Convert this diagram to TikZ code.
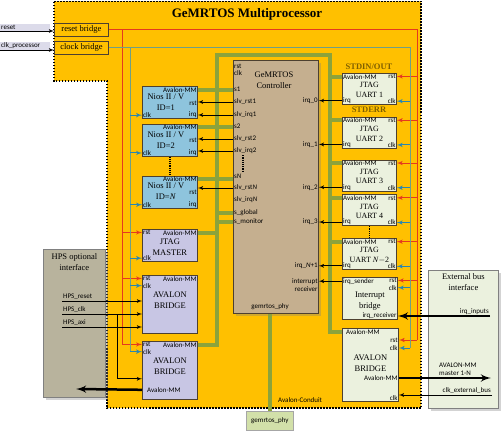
\documentclass[tikz,border=0pt]{standalone}
\usepackage{fontspec}
\setmainfont{Liberation Serif}
\newfontfamily\portfont{Carlito}
\usetikzlibrary{arrows, positioning, shadows}

\definecolor{orng}{HTML}{FFC000}
\definecolor{rstred}{HTML}{E5391F}
\definecolor{clkline}{HTML}{6F9F86}
\definecolor{clkteal}{HTML}{2A86B0}
\definecolor{busgreen}{HTML}{8CA33B}
\definecolor{niosblue}{HTML}{8EC4DD}
\definecolor{jtaglav}{HTML}{C8C6E4}
\definecolor{ctrltan}{HTML}{C5AF8F}
\definecolor{uartgreen}{HTML}{EBF1DE}
\definecolor{hpsgrey}{HTML}{B8B39D}
\definecolor{phygreen}{HTML}{D2E0A9}
\definecolor{boxline}{HTML}{4D4030}
\definecolor{stdgold}{HTML}{7F5F00}
\definecolor{inlab}{HTML}{DCDBEA}

\begin{document}
\begin{tikzpicture}[x=1pt, y=-1pt, >=latex',
    box/.style={draw=boxline, line width=0.8pt, inner sep=0pt, anchor=north west},
    nios/.style={box, fill=niosblue, minimum width=55pt, minimum height=32pt},
    uart/.style={box, fill=uartgreen, minimum width=54pt, minimum height=31pt},
    port/.style={font=\portfont\fontsize{7}{8}\selectfont, inner sep=1pt},
    boxname/.style={font=\fontsize{8.5}{11}\selectfont, align=center, inner sep=0pt},
    uartname/.style={boxname, font=\upshape\fontsize{8}{9.5}\selectfont},
    stdlabel/.style={font=\bfseries\fontsize{8.5}{9}\selectfont, text=stdgold, inner sep=0pt},
    bus/.style={busgreen, line width=4pt},
    rstw/.style={rstred, line width=1pt},
    clkw/.style={clkline, line width=1pt},
    rarr/.style={rstred, line width=1pt, ->},
    carr/.style={clkteal, line width=1pt, ->},
    sig/.style={black, line width=0.8pt, ->},
    fat/.style={black, line width=2.5pt, ->},
    dots/.style={line width=1.2pt, densely dotted}]
    \useasboundingbox (0,0) rectangle (502,430);

    % multiprocessor area
    \draw[fill=orng, line width=1.5pt, dash pattern=on 1.5pt off 1.5pt]
        (54,1.5) -- (421,1.5) -- (421,408) -- (107,408) -- (107,81) -- (54,81) -- cycle;
    \node[font=\bfseries\fontsize{13}{13}\selectfont] (title) at (247,14) {GeMRTOS Multiprocessor};

    % inputs and bridges
    \node[port, fill=inlab, anchor=south west, text width=48pt] (resetin) at (0,31) {reset};
    \node[port, fill=inlab, anchor=south west, text width=48pt] (clkin) at (0,50) {clk\_processor};
    \node[box, fill=orng, minimum width=54pt, minimum height=13pt, font=\fontsize{8.5}{9}\selectfont] (rstbr) at (54,23) {reset bridge};
    \node[box, fill=orng, minimum width=54pt, minimum height=13pt, font=\fontsize{8.5}{9}\selectfont] (clkbr) at (54,41) {clock bridge};

    % processors
    \node[nios] (nios1) at (142,86) {};
    \node[nios, below=5pt of nios1] (nios2) {};
    \node[nios, below=19pt of nios2] (niosN) {};
    \node[port, anchor=north east] (nios1-av) at (nios1.north east) {Avalon-MM};
    \node[boxname] (nios1-nm) at ([xshift=-4pt, yshift=-16pt]nios1.north) {Nios II / V\\ID=1};
    \node[port, anchor=east] (nios1-rst) at ([yshift=-17pt]nios1.north east) {rst};
    \node[port, anchor=south west] (nios1-clk) at (nios1.south west) {clk};
    \node[port, anchor=south east] (nios1-irq) at (nios1.south east) {irq};
    \node[port, anchor=north east] (nios2-av) at (nios2.north east) {Avalon-MM};
    \node[boxname] (nios2-nm) at ([xshift=-4pt, yshift=-16pt]nios2.north) {Nios II / V\\ID=2};
    \node[port, anchor=east] (nios2-rst) at ([yshift=-17pt]nios2.north east) {rst};
    \node[port, anchor=south west] (nios2-clk) at (nios2.south west) {clk};
    \node[port, anchor=south east] (nios2-irq) at (nios2.south east) {irq};
    \node[port, anchor=north east] (niosN-av) at (niosN.north east) {Avalon-MM};
    \node[boxname] (niosN-nm) at ([xshift=-4pt, yshift=-16pt]niosN.north) {Nios II / V\\ID=\textit{N}};
    \node[port, anchor=east] (niosN-rst) at ([yshift=-17pt]niosN.north east) {rst};
    \node[port, anchor=south west] (niosN-clk) at (niosN.south west) {clk};
    \node[port, anchor=south east] (niosN-irq) at (niosN.south east) {irq};

    % jtag master and hps bridges
    \node[box, fill=jtaglav, minimum width=55pt, minimum height=32pt] (jm) at (142,229) {};
    \node[port, anchor=north west] (jm-rst) at (jm.north west) {rst};
    \node[port, anchor=north east] (jm-av) at (jm.north east) {Avalon-MM};
    \node[boxname] (jm-nm) at ([yshift=-2pt]jm.center) {JTAG\\MASTER};
    \node[port, anchor=south west] (jm-clk) at (jm.south west) {clk};

    \node[box, fill=jtaglav, minimum width=55pt, minimum height=58pt] (ab1) at (142,275) {};
    \node[port, anchor=north west] (ab1-rst) at (ab1.north west) {rst};
    \node[port, anchor=north west] (ab1-clk) at ([yshift=-7pt]ab1.north west) {clk};
    \node[port, anchor=north east] (ab1-av) at (ab1.north east) {Avalon-MM};
    \node[boxname] (ab1-nm) at ([yshift=-25pt]ab1.north) {AVALON\\BRIDGE};

    \node[box, fill=jtaglav, minimum width=55pt, minimum height=58pt] (ab2) at (142,341) {};
    \node[port, anchor=north west] (ab2-rst) at (ab2.north west) {rst};
    \node[port, anchor=north west] (ab2-clk) at ([yshift=-7pt]ab2.north west) {clk};
    \node[port, anchor=north east] (ab2-av) at (ab2.north east) {Avalon-MM};
    \node[boxname] (ab2-nm) at ([yshift=-25pt]ab2.north) {AVALON\\BRIDGE};
    \node[port, anchor=west] (ab2-out) at ([xshift=4pt, yshift=10pt]ab2.south west) {Avalon-MM};

    \node[box, fill=hpsgrey, draw=gray, minimum width=62pt, minimum height=148pt, drop shadow={opacity=0.35}] (hps) at (43,249) {};
    \node[boxname, anchor=north] (hps-nm) at ([yshift=-4pt]hps.north) {HPS optional\\interface};
    \node[port, anchor=south west] (hps-rst) at (62,301) {HPS\_reset};
    \node[port, anchor=south west] (hps-clk) at (62,314) {HPS\_clk};
    \node[port, anchor=south west] (hps-axi) at (62,327) {HPS\_axi};
    \coordinate (hclk) at (117,314);
    \coordinate (hpsout) at (76,389);

    % controller
    \node[box, fill=ctrltan, minimum width=85pt, minimum height=253pt, drop shadow={opacity=0.35}] (ctrl) at (233,60) {};
    \node[boxname] (c-nm) at (274,80) {GeMRTOS\\Controller};
    \node[port, anchor=west] (c-rst) at (233,66) {rst};
    \node[port, anchor=west] (c-clk) at (233,73) {clk};
    \node[port, anchor=west] (c-s1) at (233,89) {s1};
    \node[port, anchor=west] (c-rst1) at (233,102) {slv\_rst1};
    \node[port, anchor=west] (c-irq1) at (233,115) {slv\_irq1};
    \node[port, anchor=west] (c-s2) at (233,126) {s2};
    \node[port, anchor=west] (c-rst2) at (233,139) {slv\_rst2};
    \node[port, anchor=west] (c-irq2) at (233,151) {slv\_irq2};
    \node[port, anchor=west] (c-sN) at (233,176) {s\textit{N}};
    \node[port, anchor=west] (c-rstN) at (233,188) {slv\_rst\textit{N}};
    \node[port, anchor=west] (c-irqN) at (233,200) {slv\_irq\textit{N}};
    \node[port, anchor=west] (c-glob) at (233,213) {s\_global};
    \node[port, anchor=west] (c-mon) at (233,222) {s\_monitor};
    \node[port] (c-phy) at (270,307) {gemrtos\_phy};

    % jtag uarts
    \node[uart] (u1) at (342,73) {};
    \node[uart, below=12pt of u1] (u2) {};
    \node[uart, below=11pt of u2] (u3) {};
    \node[uart, below=3pt of u3] (u4) {};
    \node[uart, below=12pt of u4] (uN) {};
    \node[stdlabel] (stdout) at (369,67) {STDIN/OUT};
    \node[stdlabel] (stderr) at (369,110) {STDERR};
    \node[port, anchor=north west] (u1-av) at (u1.north west) {Avalon-MM};
    \node[port, anchor=north east] (u1-rst) at (u1.north east) {rst};
    \node[uartname] (u1-nm) at ([yshift=-1pt]u1.center) {JTAG\\UART 1};
    \node[port, anchor=south west] (u1-irq) at (u1.south west) {irq};
    \node[port, anchor=south east] (u1-clk) at (u1.south east) {clk};
    \node[port, anchor=north west] (u2-av) at (u2.north west) {Avalon-MM};
    \node[port, anchor=north east] (u2-rst) at (u2.north east) {rst};
    \node[uartname] (u2-nm) at ([yshift=-1pt]u2.center) {JTAG\\UART 2};
    \node[port, anchor=south west] (u2-irq) at (u2.south west) {irq};
    \node[port, anchor=south east] (u2-clk) at (u2.south east) {clk};
    \node[port, anchor=north west] (u3-av) at (u3.north west) {Avalon-MM};
    \node[port, anchor=north east] (u3-rst) at (u3.north east) {rst};
    \node[uartname] (u3-nm) at ([yshift=-1pt]u3.center) {JTAG\\UART 3};
    \node[port, anchor=south west] (u3-irq) at (u3.south west) {irq};
    \node[port, anchor=south east] (u3-clk) at (u3.south east) {clk};
    \node[port, anchor=north west] (u4-av) at (u4.north west) {Avalon-MM};
    \node[port, anchor=north east] (u4-rst) at (u4.north east) {rst};
    \node[uartname] (u4-nm) at ([yshift=-1pt]u4.center) {JTAG\\UART 4};
    \node[port, anchor=south west] (u4-irq) at (u4.south west) {irq};
    \node[port, anchor=south east] (u4-clk) at (u4.south east) {clk};
    \node[port, anchor=north west] (uN-av) at (uN.north west) {Avalon-MM};
    \node[port, anchor=north east] (uN-rst) at (uN.north east) {rst};
    \node[uartname] (uN-nm) at ([yshift=-1pt]uN.center) {JTAG\\UART \textit{N}$-$2};
    \node[port, anchor=south west] (uN-irq) at (uN.south west) {irq};
    \node[port, anchor=south east] (uN-clk) at (uN.south east) {clk};

    % controller irq inputs
    \node[port, anchor=east] (c-q0) at (ctrl.east |- u1-irq) {irq\_0};
    \node[port, anchor=east] (c-q1) at (ctrl.east |- u2-irq) {irq\_1};
    \node[port, anchor=east] (c-q2) at (ctrl.east |- u3-irq) {irq\_2};
    \node[port, anchor=east] (c-q3) at (ctrl.east |- u4-irq) {irq\_3};
    \node[port, anchor=east] (c-qN) at (ctrl.east |- uN-irq) {irq\_\textit{N}+1};

    % interrupt bridge and external avalon bridge
    \node[box, fill=uartgreen, minimum width=55pt, minimum height=42pt] (ib) at (342,277) {};
    \node[port, anchor=north west] (ib-snd) at (ib.north west) {irq\_sender};
    \node[port, anchor=north east] (ib-rst) at (ib.north east) {rst};
    \node[port, anchor=north east] (ib-clk) at ([yshift=-7pt]ib.north east) {clk};
    \node[boxname] (ib-nm) at ([yshift=-3pt]ib.center) {Interrupt\\bridge};
    \node[port, anchor=south east] (ib-rcv) at (ib.south east) {irq\_receiver};
    \node[port, anchor=north east, align=right] (c-irec) at (ctrl.east |- ib.north) {interrupt\\receiver};

    \node[box, fill=uartgreen, minimum width=56pt, minimum height=73pt] (abx) at (342,328) {};
    \node[port, anchor=north west] (abx-av) at ([xshift=3pt]abx.north west) {Avalon-MM};
    \node[port, anchor=east] (abx-rst) at ([yshift=-12pt]abx.north east) {rst};
    \node[port, anchor=east] (abx-clk) at ([yshift=-20pt]abx.north east) {clk};
    \node[boxname] (abx-nm) at ([yshift=-35pt]abx.north) {AVALON\\BRIDGE};
    \node[port, anchor=east] (abx-out) at ([yshift=-50pt]abx.north east) {Avalon-MM};
    \node[port, anchor=south east] (abx-clk2) at (abx.south east) {clk};

    \node[box, fill=uartgreen, draw=gray, minimum width=70pt, minimum height=138pt, drop shadow={opacity=0.35}] (ext) at (428,270) {};
    \node[boxname, anchor=north] (ext-nm) at ([yshift=-3pt]ext.north) {External bus\\interface};
    \node[port, anchor=south east] (ext-irq) at (490,316) {irq\_inputs};
    \node[port, anchor=south west, align=left] (ext-av) at (438,377) {AVALON-MM\\master 1-N};
    \node[port, anchor=south east] (ext-clk) at (492,395) {clk\_external\_bus};
    \coordinate (extout) at (491,0);

    \node[box, fill=phygreen, draw=gray!70, minimum width=47pt, minimum height=19pt, font=\portfont\fontsize{7}{8}\selectfont] (phy) at (246,411) {gemrtos\_phy};
    \node[port, anchor=west] (cond) at (277,400) {Avalon-Conduit};

    % avalon-mm bus
    \coordinate (busL) at (217,55);
    \coordinate (busR) at (330,55);
    \draw[bus] (ab2.east |- ab2-av) -| (busL) -- (busR) |- (abx.west |- abx-av);
    \draw[bus] (nios1.east |- nios1-av) -- (ctrl.west |- nios1-av);
    \draw[bus] (nios2.east |- nios2-av) -- (ctrl.west |- nios2-av);
    \draw[bus] (niosN.east |- niosN-av) -- (ctrl.west |- niosN-av);
    \draw[bus] (busL |- c-glob) -- (ctrl.west |- c-glob);
    \draw[bus] (busL |- c-mon) -- (ctrl.west |- c-mon);
    \draw[bus] (jm.east |- jm-av) -- (busL |- jm-av);
    \draw[bus] (busR |- u1-av) -- (u1.west |- u1-av);
    \draw[bus] (busR |- u2-av) -- (u2.west |- u2-av);
    \draw[bus] (busR |- u3-av) -- (u3.west |- u3-av);
    \draw[bus] (busR |- u4-av) -- (u4.west |- u4-av);
    \draw[bus] (busR |- uN-av) -- (uN.west |- uN-av);
    \draw[bus] (phy.north |- ctrl.south) -- (phy.north);

    % reset network
    \coordinate (rstL) at (122,0);
    \coordinate (rstR) at (417,0);
    \draw[sig] (resetin.south west) -- (rstbr.west |- resetin.south west);
    \draw[rstw] (rstbr.east) -- (rstR |- rstbr.east) -- (rstR |- abx-rst);
    \draw[rstw] (rstL |- rstbr.east) -- (rstL |- ab2-rst);
    \draw[rarr] (rstL |- jm-rst) -- (jm.west |- jm-rst);
    \draw[rarr] (rstL |- ab1-rst) -- (ab1.west |- ab1-rst);
    \draw[rarr] (rstL |- ab2-rst) -- (ab2.west |- ab2-rst);
    \draw[rarr] (rstR |- u1-rst) -- (u1.east |- u1-rst);
    \draw[rarr] (rstR |- u2-rst) -- (u2.east |- u2-rst);
    \draw[rarr] (rstR |- u3-rst) -- (u3.east |- u3-rst);
    \draw[rarr] (rstR |- u4-rst) -- (u4.east |- u4-rst);
    \draw[rarr] (rstR |- uN-rst) -- (uN.east |- uN-rst);
    \draw[rarr] (rstR |- ib-rst) -- (ib.east |- ib-rst);
    \draw[rarr] (rstR |- abx-rst) -- (abx.east |- abx-rst);

    % clock network
    \coordinate (clkL) at (130,0);
    \coordinate (clkR) at (410,0);
    \draw[sig] (clkin.south west) -- (clkbr.west |- clkin.south west);
    \draw[clkw] (clkbr.east) -- (clkR |- clkbr.east) -- (clkR |- abx-clk);
    \draw[clkw] (clkL |- clkbr.east) -- (clkL |- ab2-clk);
    \draw[carr] (clkL |- nios1-clk) -- (nios1.west |- nios1-clk);
    \draw[carr] (clkL |- nios2-clk) -- (nios2.west |- nios2-clk);
    \draw[carr] (clkL |- niosN-clk) -- (niosN.west |- niosN-clk);
    \draw[carr] (clkL |- jm-clk) -- (jm.west |- jm-clk);
    \draw[carr] (clkL |- ab1-clk) -- (ab1.west |- ab1-clk);
    \draw[carr] (clkL |- ab2-clk) -- (ab2.west |- ab2-clk);
    \draw[carr] (clkR |- u1-clk) -- (u1.east |- u1-clk);
    \draw[carr] (clkR |- u2-clk) -- (u2.east |- u2-clk);
    \draw[carr] (clkR |- u3-clk) -- (u3.east |- u3-clk);
    \draw[carr] (clkR |- u4-clk) -- (u4.east |- u4-clk);
    \draw[carr] (clkR |- uN-clk) -- (uN.east |- uN-clk);
    \draw[carr] (clkR |- ib-clk) -- (ib.east |- ib-clk);
    \draw[carr] (clkR |- abx-clk) -- (abx.east |- abx-clk);

    % slave resets and interrupts
    \draw[sig] (ctrl.west |- c-rst1) -- (nios1.east |- c-rst1);
    \draw[sig] (ctrl.west |- c-irq1) -- (nios1.east |- c-irq1);
    \draw[sig] (ctrl.west |- c-rst2) -- (nios2.east |- c-rst2);
    \draw[sig] (ctrl.west |- c-irq2) -- (nios2.east |- c-irq2);
    \draw[sig] (ctrl.west |- c-rstN) -- (niosN.east |- c-rstN);
    \draw[sig] (u1.west |- u1-irq) -- (c-q0.east);
    \draw[sig] (u2.west |- u2-irq) -- (c-q1.east);
    \draw[sig] (u3.west |- u3-irq) -- (c-q2.east);
    \draw[sig] (u4.west |- u4-irq) -- (c-q3.east);
    \draw[sig] (uN.west |- uN-irq) -- (c-qN.east);
    \draw[sig] (ib.west |- ib-snd) -- (ctrl.east |- ib-snd);

    % repeated units
    \draw[dots] (nios2.south) -- (niosN.north);
    \draw[dots] (u4.south) -- (uN.north);
    \draw[dots] ([xshift=10pt]c-irq2.south west) -- ([xshift=10pt]c-sN.north west);

    % hps side
    \draw[sig] (hps-rst.south west) -- (ab1.west |- hps-rst.south west);
    \draw[sig] (hps-clk.south west) -- (ab1.west |- hps-clk.south west);
    \draw[sig] (hps-axi.south west) -- (ab1.west |- hps-axi.south west);
    \draw[sig] (hclk) |- ([yshift=21pt]ab2.south west);
    \draw[fat] (ab2.west |- ab2-out) -- (hpsout);

    % external side
    \draw[fat] (ext-irq.south east) -- (ib.east |- ext-irq.south east);
    \draw[fat] (abx.east |- abx-out) -- (extout |- abx-out);
    \draw[sig] (ext-clk.south east) -- (abx.east |- ext-clk.south east);
\end{tikzpicture}
\end{document}
